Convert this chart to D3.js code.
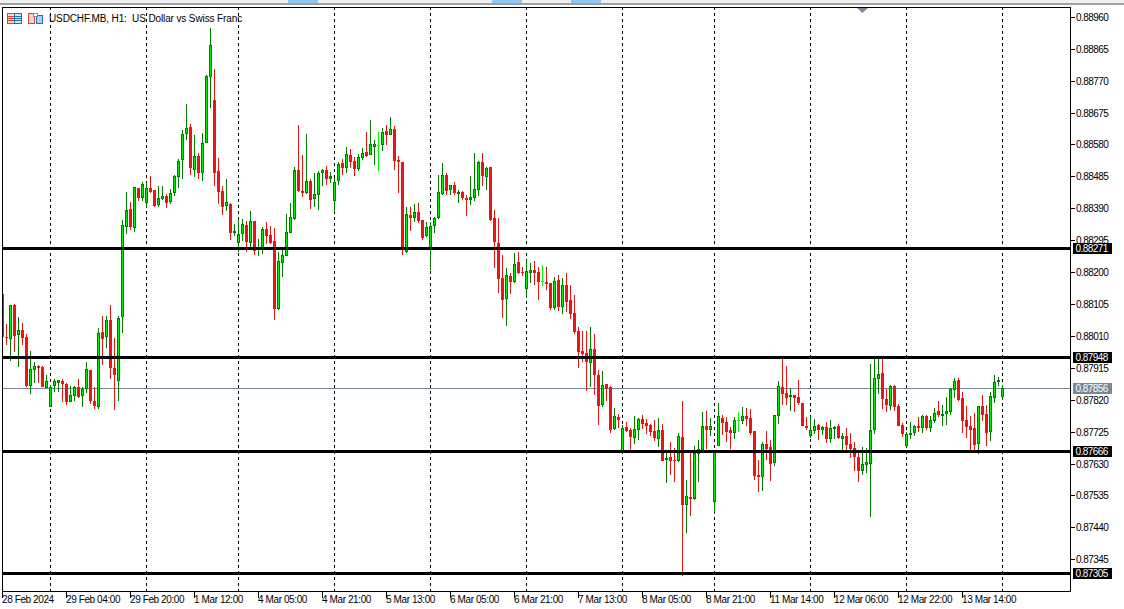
<!DOCTYPE html>
<html>
<head>
    <title>USDCHF H1 candlestick chart</title>
    <script src="https://d3js.org/d3.v7.min.js"></script>
    <style>
        body { margin: 0; background: #fff; overflow: hidden; }
        text { font-family: "Liberation Sans", Arial, sans-serif; font-size: 10px; fill: #000; }
    </style>
</head>
<body>
    <script>
        // Prices are in points (1 point = 0.00001), one entry per H1 bar
        const opens = [
            88135,88007,88001,88103,88013,88028,88007,87861,87909,87921,
            87918,87856,87799,87861,87870,87876,87867,87814,87832,87859,
            87832,87853,87909,87817,87799,88022,88007,88058,87915,87876,
            88067,88335,88389,88332,88451,88421,88406,88451,88445,88401,
            88418,88427,88409,88436,88484,88535,88612,88633,88505,88546,
            88496,88585,88782,88713,88502,88442,88398,88403,88317,88287,
            88314,88341,88287,88353,88266,88272,88329,88311,88293,88091,
            88228,88249,88317,88359,88505,88442,88436,88472,88418,88430,
            88496,88505,88478,88412,88472,88526,88511,88549,88532,88508,
            88540,88558,88549,88573,88579,88579,88621,88609,88627,88535,
            88529,88261,88371,88362,88380,88356,88308,88266,88338,88362,
            88433,88490,88445,88460,88433,88439,88421,88415,88421,88445,
            88529,88484,88514,88362,88287,88183,88121,88189,88171,88231,
            88201,88150,88198,88207,88201,88174,88171,88168,88094,88177,
            88097,88162,88118,88079,88025,87966,87960,87930,87972,87894,
            87805,87867,87859,87733,87769,87668,87739,87730,87707,87730,
            87763,87751,87745,87727,87704,87730,87641,87650,87641,87638,
            87710,87507,87531,87525,87659,87671,87742,87730,87516,87683,
            87766,87754,87730,87722,87760,87757,87772,87766,87727,87596,
            87590,87689,87680,87632,87772,87859,87841,87829,87835,87829,
            87811,87742,87713,87727,87745,87730,87739,87704,87733,87742,
            87704,87713,87689,87677,87650,87608,87626,87629,87730,87882,
            87900,87823,87802,87861,87802,87745,87683,87716,87722,87742,
            87736,87772,87736,87757,87787,87772,87778,87784,87850,87879,
            87826,87760,87742,87736,87689,87802,87778,87725,87826,87873,87829];
        const highs = [
            88135,88046,88103,88106,88067,88049,88016,87966,87933,87924,
            87921,87894,87864,87882,87879,87882,87870,87861,87861,87882,
            87859,87933,87909,87859,88034,88070,88070,88103,88004,88070,
            88356,88439,88409,88454,88451,88469,88466,88487,88445,88457,
            88457,88433,88448,88490,88537,88624,88701,88642,88609,88555,
            88615,88788,88928,88806,88540,88457,88478,88406,88344,88359,
            88359,88353,88383,88353,88299,88335,88350,88338,88332,88261,
            88275,88374,88406,88514,88639,88549,88612,88478,88496,88502,
            88508,88517,88499,88481,88529,88537,88573,88567,88543,88552,
            88570,88618,88654,88594,88618,88630,88639,88663,88636,88546,
            88529,88395,88395,88403,88406,88356,88350,88350,88365,88490,
            88526,88496,88460,88469,88445,88442,88430,88487,88555,88532,
            88555,88514,88514,88386,88362,88252,88213,88198,88258,88261,
            88216,88237,88228,88234,88216,88222,88216,88168,88186,88192,
            88183,88198,88162,88132,88037,88025,88025,88037,88016,87909,
            87906,87867,87861,87796,87778,87745,87754,87736,87772,87766,
            87775,87763,87748,87760,87766,87748,87671,87695,87677,87722,
            87817,87582,87668,87683,87701,87784,87787,87766,87665,87811,
            87775,87769,87739,87769,87784,87799,87796,87793,87727,87641,
            87695,87727,87701,87775,87876,87945,87921,87856,87835,87879,
            87811,87769,87772,87763,87748,87742,87754,87760,87742,87748,
            87722,87736,87722,87695,87662,87680,87677,87927,87945,87945,
            87945,87853,87864,87864,87808,87751,87725,87754,87745,87769,
            87775,87775,87772,87796,87817,87805,87829,87856,87885,87885,
            87844,87802,87772,87781,87802,87835,87805,87844,87894,87888,87864];
        const lows = [
            88007,87984,87936,87963,87918,87984,87859,87838,87870,87870,
            87859,87856,87799,87844,87844,87814,87805,87814,87817,87826,
            87799,87841,87808,87793,87793,87924,87975,87882,87790,87817,
            88019,88314,88326,88320,88412,88412,88392,88436,88395,88395,
            88415,88392,88403,88427,88451,88478,88594,88490,88484,88478,
            88472,88585,88689,88457,88403,88371,88383,88296,88308,88261,
            88293,88261,88275,88252,88249,88255,88284,88284,88058,88088,
            88186,88249,88317,88356,88439,88424,88433,88389,88395,88386,
            88457,88460,88466,88380,88460,88490,88496,88511,88487,88502,
            88535,88543,88549,88520,88502,88561,88579,88609,88505,88436,
            88252,88258,88323,88350,88347,88296,88305,88207,88317,88359,
            88430,88430,88430,88430,88406,88415,88368,88401,88412,88427,
            88457,88445,88353,88213,88138,88064,88040,88135,88168,88195,
            88189,88124,88168,88162,88118,88159,88147,88088,88088,88085,
            88076,88082,88061,88016,87915,87933,87847,87859,87835,87745,
            87799,87817,87722,87730,87736,87662,87725,87671,87689,87701,
            87733,87719,87713,87698,87680,87638,87573,87596,87576,87635,
            87296,87424,87474,87522,87576,87668,87674,87713,87480,87683,
            87716,87695,87674,87704,87725,87748,87742,87716,87582,87546,
            87549,87641,87579,87623,87748,87805,87805,87787,87784,87805,
            87742,87730,87707,87719,87701,87716,87692,87692,87704,87704,
            87671,87671,87647,87608,87576,87596,87602,87471,87719,87838,
            87793,87784,87790,87787,87742,87710,87680,87704,87713,87725,
            87722,87730,87725,87751,87769,87742,87745,87775,87826,87817,
            87722,87707,87671,87671,87659,87757,87683,87698,87811,87861,87820];
        const closes = [
            88007,88004,88103,88010,88028,88004,87861,87912,87921,87915,
            87859,87876,87859,87876,87879,87867,87814,87835,87859,87829,
            87853,87912,87817,87802,88019,88001,88058,87915,87894,88064,
            88341,88386,88335,88454,88421,88463,88451,88439,88398,88421,
            88427,88406,88436,88487,88532,88612,88630,88511,88546,88496,
            88585,88785,88877,88496,88439,88395,88409,88317,88323,88314,
            88344,88290,88353,88264,88272,88329,88308,88287,88091,88234,
            88252,88320,88365,88505,88442,88436,88472,88415,88433,88496,
            88505,88478,88487,88469,88523,88511,88552,88529,88508,88543,
            88555,88546,88582,88582,88579,88618,88609,88627,88532,88529,
            88266,88374,88362,88380,88353,88302,88335,88338,88362,88439,
            88490,88442,88460,88436,88439,88421,88415,88424,88448,88529,
            88487,88511,88356,88290,88180,88118,88192,88171,88225,88198,
            88198,88204,88207,88198,88171,88174,88165,88094,88174,88097,
            88162,88112,88076,88022,87963,87957,87933,87972,87894,87802,
            87864,87853,87730,87772,87760,87736,87727,87710,87733,87763,
            87748,87742,87725,87707,87730,87638,87647,87638,87638,87713,
            87507,87534,87525,87662,87674,87742,87730,87742,87665,87772,
            87751,87725,87722,87760,87760,87772,87763,87722,87593,87590,
            87689,87674,87629,87775,87861,87838,87826,87835,87826,87811,
            87742,87736,87730,87742,87730,87739,87704,87736,87739,87707,
            87713,87686,87674,87650,87608,87629,87635,87730,87885,87897,
            87823,87805,87861,87799,87742,87719,87719,87722,87742,87736,
            87772,87736,87760,87781,87775,87778,87787,87853,87876,87820,
            87757,87739,87730,87686,87802,87775,87722,87832,87873,87879,87856];

        const priceTicks = [88960,88865,88770,88675,88580,88485,88390,88295,88200,
                            88105,88010,87915,87820,87725,87630,87535,87440,87345];
        const levels = [88271, 87948, 87666, 87305];
        const lastPrice = 87856;

        const timeBars = [0,16,32,48,64,80,96,112,128,144,160,176,192,208,224,240];
        const timeLabels = ["28 Feb 2024","29 Feb 04:00","29 Feb 20:00","1 Mar 12:00","4 Mar 05:00","4 Mar 21:00",
                            "5 Mar 13:00","6 Mar 05:00","6 Mar 21:00","7 Mar 13:00","8 Mar 05:00","8 Mar 21:00",
                            "11 Mar 14:00","12 Mar 06:00","12 Mar 22:00","13 Mar 14:00"];
        // bars where the day separators fall
        const separatorBars = [12,36,59,83,107,131,155,178,202,226,250];

        const title = "USDCHF.MB, H1:  US Dollar vs Swiss Franc";

        const width = 1124, height = 609;
        const chart = {left: 2, right: 1070, top: 7, bottom: 591};

        const svg = d3.select("body")
          .append("svg")
            .attr("width", width)
            .attr("height", height)
            .style("display", "block");

        const x = d3.scaleLinear().domain([0, opens.length - 1]).range([2, 1002]);
        const y = d3.scaleLinear().domain([88960, 87345]).range([17.3, 559.8]);
        const row = p => Math.floor(y(p));   // pixel row of a price

        // Window chrome above the chart
        svg.append("rect").attr("width", width).attr("height", 3).attr("fill", "#f0f0f0");
        svg.append("rect").attr("y", 3).attr("width", width).attr("height", 2).attr("fill", "#a0a0a0");
        [288, 492, 571].forEach(function(tx) {
            svg.append("rect").attr("x", tx).attr("width", 30).attr("height", 3).attr("fill", "#90c8f4");
        });

        // Chart title and the two toolbar icons
        svg.append("text").attr("x", 49).attr("y", 22)
            .style("letter-spacing", "-0.12px")
            .attr("xml:space", "preserve")
            .style("white-space", "pre")
            .text(title);

        const icons = svg.append("g").attr("fill", "none").attr("stroke-width", 1).attr("shape-rendering", "crispEdges");
        icons.append("rect").attr("x", 7.5).attr("y", 13.5).attr("width", 7).attr("height", 10).attr("stroke", "#e04040").attr("fill", "#fbd8d0");
        icons.append("rect").attr("x", 14.5).attr("y", 13.5).attr("width", 7).attr("height", 10).attr("stroke", "#2070b0").attr("fill", "#cfe4f6");
        [16.5, 18.5, 20.5].forEach(function(ly) {
            icons.append("line").attr("x1", 8).attr("x2", 14).attr("y1", ly).attr("y2", ly).attr("stroke", "#e04040");
            icons.append("line").attr("x1", 15).attr("x2", 21).attr("y1", ly).attr("y2", ly).attr("stroke", "#2070b0");
        });
        icons.append("rect").attr("x", 28.5).attr("y", 13.5).attr("width", 6).attr("height", 10).attr("stroke", "#e04040").attr("fill", "#fbd0c4");
        icons.append("rect").attr("x", 36.5).attr("y", 15.5).attr("width", 6).attr("height", 8).attr("stroke", "#2070b0").attr("fill", "#a8d4f4");
        icons.append("rect").attr("x", 33.5).attr("y", 13.5).attr("width", 4).attr("height", 3).attr("stroke", "#909090").attr("fill", "#fff");

        // Day separators
        svg.append("g").selectAll("line")
          .data(separatorBars)
          .join("line")
            .attr("x1", d => x(d) + 0.5)
            .attr("x2", d => x(d) + 0.5)
            .attr("y1", chart.top)
            .attr("y2", chart.bottom)
            .attr("stroke", "#000")
            .attr("stroke-dasharray", "3,3")
            .attr("shape-rendering", "crispEdges");

        // Last price line
        svg.append("rect")
            .attr("x", chart.left).attr("y", row(lastPrice))
            .attr("width", chart.right - chart.left).attr("height", 1)
            .attr("fill", "#778899");

        // Candles, clipped to the chart frame
        svg.append("clipPath").attr("id", "plot")
          .append("rect")
            .attr("x", chart.left + 1).attr("y", chart.top)
            .attr("width", chart.right - chart.left - 1).attr("height", chart.bottom - chart.top);

        const candles = svg.append("g").attr("clip-path", "url(#plot)")
          .selectAll("g")
          .data(d3.range(opens.length))
          .join("g");

        const wickColor = i => closes[i] === opens[i] ? "#00ff00" : closes[i] > opens[i] ? "#007b00" : "#e81515";
        const bodyTop = i => row(Math.max(opens[i], closes[i]));
        const bodyHeight = i => Math.max(1, row(Math.min(opens[i], closes[i])) - bodyTop(i));

        candles.append("rect")
            .attr("x", i => x(i))
            .attr("y", i => row(highs[i]))
            .attr("width", 1)
            .attr("height", i => Math.max(1, row(lows[i]) - row(highs[i])))
            .attr("fill", wickColor);

        candles.append("rect")
            .attr("x", i => x(i) - 1)
            .attr("y", bodyTop)
            .attr("width", 3)
            .attr("height", bodyHeight)
            .attr("fill", wickColor);

        // Bright core of the up candles
        candles.filter(i => closes[i] > opens[i] && bodyHeight(i) > 2)
          .append("rect")
            .attr("x", i => x(i))
            .attr("y", i => bodyTop(i) + 1)
            .attr("width", 1)
            .attr("height", i => bodyHeight(i) - 2)
            .attr("fill", "#00f000");

        // Horizontal levels
        svg.append("g").selectAll("rect")
          .data(levels)
          .join("rect")
            .attr("x", chart.left)
            .attr("y", d => row(d) - 1)
            .attr("width", chart.right - chart.left)
            .attr("height", 3)
            .attr("fill", "#000");

        // Frame
        svg.append("rect")
            .attr("x", chart.left + 0.5).attr("y", chart.top + 0.5)
            .attr("width", chart.right - chart.left).attr("height", chart.bottom - chart.top)
            .attr("fill", "none").attr("stroke", "#000")
            .attr("shape-rendering", "crispEdges");

        // Marker on the top edge
        svg.append("path")
            .attr("d", d3.line()([[857, 8], [868, 8], [862.5, 13]]))
            .attr("fill", "#778899");

        // Price axis
        const yAxis = svg.append("g")
            .attr("transform", `translate(${chart.right},0)`)
            .call(d3.axisRight(y).tickValues(priceTicks).tickSize(5).tickPadding(1)
                .tickFormat(d => (d / 1e5).toFixed(5)));
        yAxis.select(".domain").remove();
        yAxis.selectAll(".tick").attr("transform", d => `translate(0,${row(d) + 0.5})`);
        yAxis.selectAll("text").style("letter-spacing", "-0.55px");
        yAxis.attr("font-family", null).attr("font-size", null);

        // Time axis
        const xAxis = svg.append("g")
            .attr("transform", `translate(0,${chart.bottom})`)
            .call(d3.axisBottom(x).tickValues(timeBars).tickSize(7).tickPadding(0)
                .tickFormat((d, i) => timeLabels[i]));
        xAxis.select(".domain").remove();
        xAxis.attr("font-family", null).attr("font-size", null);
        xAxis.selectAll("text")
            .attr("text-anchor", "start")
            .attr("x", -0.5)
            .attr("y", 5)
            .style("letter-spacing", "-0.4px");

        // Boxed price labels
        const boxes = levels.map(d => ({value: d, color: "#000"})).concat([{value: lastPrice, color: "#778899"}]);
        const box = svg.append("g").selectAll("g").data(boxes).join("g")
            .attr("transform", d => `translate(1073,${row(d.value) - 5})`);
        box.append("rect").attr("width", 39).attr("height", 11).attr("fill", d => d.color);
        box.append("text")
            .attr("x", 2.5).attr("y", 9)
            .style("fill", "#fff")
            .style("letter-spacing", "-0.55px")
            .text(d => (d.value / 1e5).toFixed(5));
    </script>
</body>
</html>
